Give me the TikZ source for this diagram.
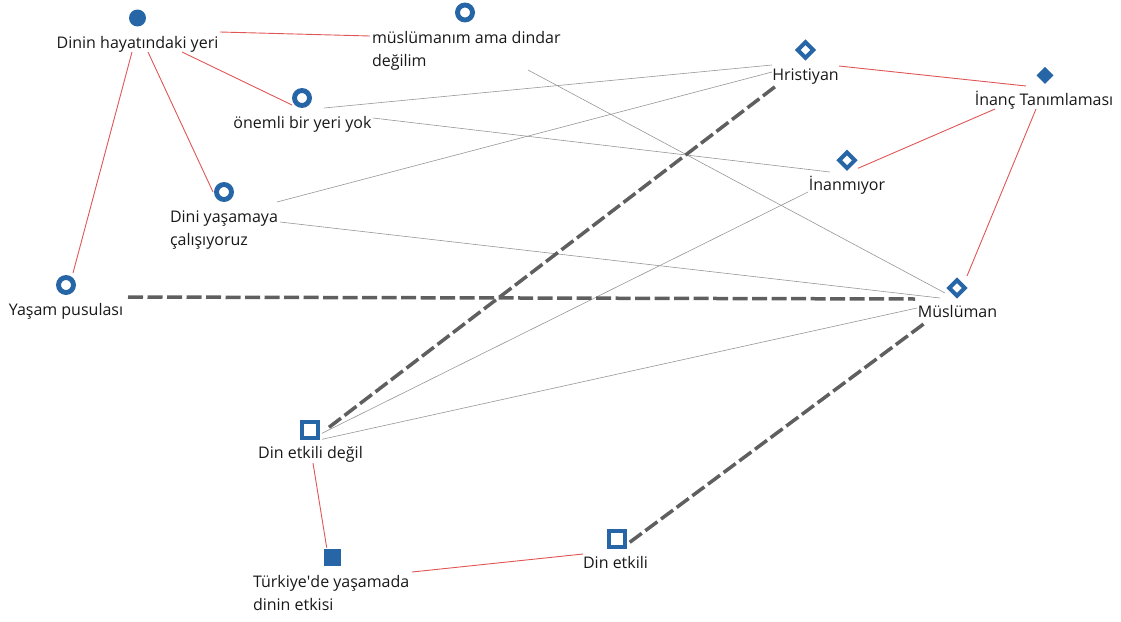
\documentclass[tikz,border=0pt]{standalone}
\usepackage{fontspec}
\setmainfont{Open Sans}
\definecolor{mk}{RGB}{38,101,166}
\definecolor{rl}{RGB}{224,86,86}
\definecolor{gl}{RGB}{150,150,150}
\definecolor{dl}{RGB}{95,95,95}
\definecolor{tx}{RGB}{24,24,24}
\newcommand{\twoline}[2]{\begin{tabular}[t]{@{}l@{}}#1\\#2\end{tabular}}
% straight apostrophe, bypassing the TeX quote mapping
\newcommand{\sq}{{\XeTeXglyph\XeTeXcharglyph"0027\relax}}
\begin{document}
\begin{tikzpicture}[x=1pt,y=-1pt,
  lbl/.style={font=\fontsize{16}{23.5}\selectfont, text=tx, inner sep=0pt, outer sep=0pt},
  mopenc/.style={circle, draw=mk, line width=4.9pt, minimum size=15pt, inner sep=0pt},
  mfillc/.style={circle, fill=mk, minimum size=17pt, inner sep=0pt},
  mopend/.style={rectangle, rotate=45, draw=mk, line width=4pt, minimum size=11pt, inner sep=0pt},
  mfilld/.style={rectangle, rotate=45, fill=mk, minimum size=12pt, inner sep=0pt},
  mopens/.style={rectangle, draw=mk, line width=4pt, minimum size=16pt, inner sep=0pt},
  mfills/.style={rectangle, fill=mk, minimum size=17pt, inner sep=0pt},
  redln/.style={draw=rl, line width=0.9pt},
  grayln/.style={draw=gl, line width=0.6pt},
  dashln/.style={draw=dl, line width=3.5pt, dash pattern=on 15pt off 4.5pt}]
\useasboundingbox (0,0) rectangle (1121,621);

% markers
\node[mfillc] (Mdhy) at (137.5,18) {};
\node[mopenc] (Mmus) at (465,12.5) {};
\node[mopenc] (Monm) at (302,98) {};
\node[mopenc] (Mdini) at (224,192) {};
\node[mopenc] (Myas) at (66,285) {};
\node[mopend] (Mhri) at (805.5,50) {};
\node[mfilld] (Minc) at (1045,75.3) {};
\node[mopend] (Minm) at (847,160.3) {};
\node[mopend] (Mmsl) at (957,288) {};
\node[mopens] (Mdek) at (310,430.3) {};
\node[mfills] (Mtur) at (332.7,557.7) {};
\node[mopens] (Mdet) at (616.7,539.3) {};

% labels
\node[lbl, anchor=base] (Ldhy) at (137.5,48) {Dinin hayatındaki yeri};
\node[lbl, anchor=base west] (Lmus) at (372,43) {\twoline{müslümanım ama dindar}{değilim}};
\node[lbl, anchor=base] (Lonm) at (302.5,128) {önemli bir yeri yok};
\node[lbl, anchor=base west] (Ldini) at (170,222) {\twoline{Dini yaşamaya}{çalışıyoruz}};
\node[lbl, anchor=base] (Lyas) at (66,315) {Yaşam pusulası};
\node[lbl, anchor=base] (Lhri) at (805.5,80) {Hristiyan};
\node[lbl, anchor=base] (Linc) at (1044,105) {İnanç Tanımlaması};
\node[lbl, anchor=base] (Linm) at (847,190) {İnanmıyor};
\node[lbl, anchor=base] (Lmsl) at (957.5,317) {Müslüman};
\node[lbl, anchor=base] (Ldek) at (310.5,458) {Din etkili değil};
\node[lbl, anchor=base west] (Ltur) at (253,587) {\twoline{Türkiye\sq de yaşamada}{dinin etkisi}};
\node[lbl, anchor=base] (Ldet) at (615.5,568) {Din etkili};

% code-to-category links
\draw[redln] ([shift={(82.5,-16)}]Ldhy.base) -- ([shift={(-2,-7)}]Lmus.base west);
\draw[redln] ([shift={(44.5,4)}]Ldhy.base) -- ([shift={(-10,7)}]Monm.center);
\draw[redln] ([shift={(10.5,4)}]Ldhy.base) -- ([shift={(-11,0)}]Mdini.center);
\draw[redln] ([shift={(-5.5,4)}]Ldhy.base) -- ([shift={(7,-12)}]Myas.center);
\draw[redln] ([shift={(33.5,-14)}]Lhri.base) -- ([shift={(-18,-19)}]Linc.base);
\draw[redln] ([shift={(-49,4)}]Linc.base) -- ([shift={(11,8)}]Minm.center);
\draw[redln] ([shift={(-8,4)}]Linc.base) -- ([shift={(10,-12)}]Mmsl.center);
\draw[redln] ([shift={(2.5,5)}]Ldek.base) -- ([shift={(-6,-10)}]Mtur.center);
\draw[redln] ([shift={(159,-15)}]Ltur.base west) -- ([shift={(-32.5,-14)}]Ldet.base);

% co-occurrence links
\draw[grayln] ([shift={(22,10)}]Monm.center) -- ([shift={(-33.5,-15)}]Lhri.base);
\draw[grayln] ([shift={(70.5,-10)}]Lonm.base) -- ([shift={(-17,-18)}]Linm.base);
\draw[grayln] ([shift={(107,-20)}]Ldini.base west) -- ([shift={(-33.5,-8)}]Lhri.base);
\draw[grayln] ([shift={(110,0)}]Ldini.base west) -- ([shift={(-17,10)}]Mmsl.center);
\draw[grayln] ([shift={(156,27)}]Lmus.base west) -- ([shift={(-12,5)}]Mmsl.center);
\draw[grayln] ([shift={(12,3)}]Mdek.center) -- ([shift={(-39,2)}]Linm.base);
\draw[grayln] ([shift={(12,9)}]Mdek.center) -- ([shift={(-40.5,-9)}]Lmsl.base);

% strong links
\draw[dashln] ([shift={(62,-18)}]Lyas.base) -- ([shift={(-42,11)}]Mmsl.center);
\draw[dashln] ([shift={(19,-3)}]Mdek.center) -- ([shift={(-29.5,6)}]Lhri.base);
\draw[dashln] ([shift={(13,3)}]Mdet.center) -- ([shift={(-32.5,6)}]Lmsl.base);
\end{tikzpicture}
\end{document}
